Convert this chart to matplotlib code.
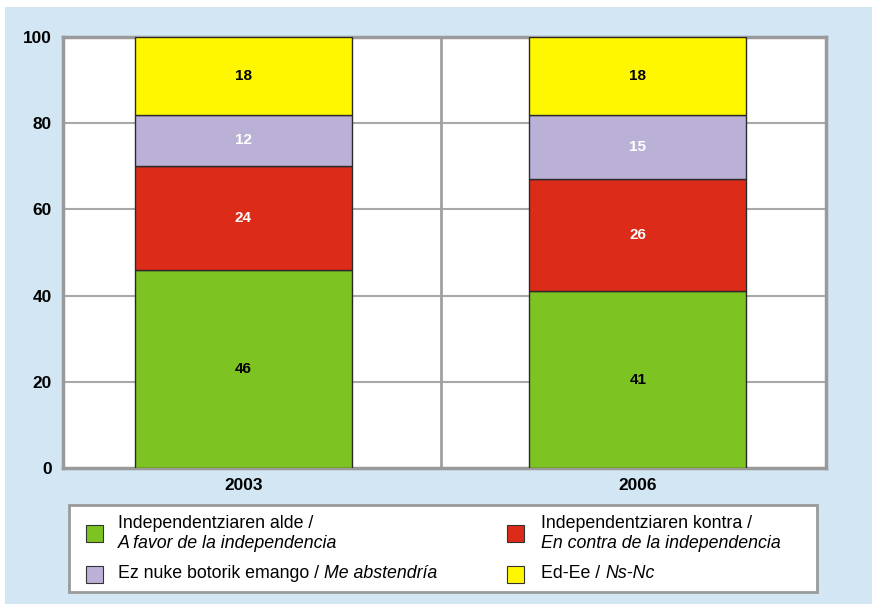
import matplotlib
matplotlib.use("Agg")
import matplotlib.pyplot as plt
from matplotlib.patches import Rectangle
import numpy as np

plt.rcParams['font.family'] = ['Liberation Sans', 'DejaVu Sans']

years = ["2003", "2006"]
favor = [46, 41]
contra = [24, 26]
abst = [12, 15]
nsnc = [18, 18]

series = [favor, contra, abst, nsnc]
colors = ["#7dc423", "#dc2b19", "#bbb1d6", "#fff700"]
label_colors = ["black", "white", "white", "black"]
legend_main = ["Independentziaren alde /", "Independentziaren kontra /",
               "Ez nuke botorik emango / ", "Ed-Ee / "]
legend_it = ["A favor de la independencia", "En contra de la independencia",
             "Me abstendría", "Ns-Nc"]

W, H = 872, 607
fig = plt.figure(figsize=(W/100, H/100), dpi=100, facecolor="white")

def fx(px):
    return px / W
def fy(py):
    return 1 - py / H

# light blue background panel
fig.patches.append(Rectangle((fx(5), fy(604)), fx(872) - fx(5), fy(7) - fy(604),
                             transform=fig.transFigure, facecolor="#d2e6f3",
                             edgecolor="none", zorder=-10))

ax = fig.add_axes([fx(63), fy(468), fx(826) - fx(63), fy(37) - fy(468)])
ax.set_zorder(2)
ax.set_facecolor("white")
x = np.arange(len(years))
bottom = np.zeros(len(years))
for vals, c, lc in zip(series, colors, label_colors):
    ax.bar(x, vals, 0.55, bottom=bottom, color=c, edgecolor="#2a2a2a",
           linewidth=1, zorder=3)
    for xi, b, v in zip(x, bottom, vals):
        ax.text(xi, b + v / 2, str(v), ha="center", va="center",
                fontsize=11, fontweight="bold", color=lc, zorder=4)
    bottom += np.array(vals)

ax.set_xlim(-0.4575, 1.4766)
ax.set_ylim(0, 100)
ax.set_yticks([0, 20, 40, 60, 80, 100])
ax.set_xticks(x)
ax.set_xticklabels(years)
for lab in ax.get_xticklabels() + ax.get_yticklabels():
    lab.set_fontweight("bold")
    lab.set_fontsize(12.4)
ax.tick_params(axis="both", length=0)
ax.tick_params(axis="y", pad=8)
ax.tick_params(axis="x", pad=7)
for yv in [20, 40, 60, 80]:
    ax.axhline(yv, color="#a8a8a8", linewidth=1.5, zorder=1)
ax.axvline(0.5, color="#a0a0a0", linewidth=2, zorder=1)
for s in ax.spines.values():
    s.set_color("#9a9a9a")
    s.set_linewidth(2.5)

# legend box
fig.patches.append(Rectangle((fx(69), fy(592)), fx(817) - fx(69), fy(505) - fy(592),
                             transform=fig.transFigure, facecolor="white",
                             edgecolor="#9a9a9a", linewidth=2, zorder=1))

FS = 12.8
entries = [
    (0, 86, 118, 533, True),
    (1, 507, 541, 533, True),
    (2, 86, 118, 574, False),
    (3, 507, 541, 574, False),
]
r = fig.canvas.get_renderer()
for idx, sqx, tx, cy, two in entries:
    fig.patches.append(Rectangle((fx(sqx), fy(cy + 8.5)), fx(17), 17 / H,
                                 transform=fig.transFigure, facecolor=colors[idx],
                                 edgecolor="#333333", linewidth=0.8, zorder=2))
    if two:
        fig.text(fx(tx), fy(cy - 10), legend_main[idx], ha="left", va="center",
                 fontsize=FS, zorder=3)
        fig.text(fx(tx), fy(cy + 10), legend_it[idx], ha="left", va="center",
                 fontsize=FS, style="italic", zorder=3)
    else:
        t = fig.text(fx(tx), fy(cy), legend_main[idx], ha="left", va="center",
                     fontsize=FS, zorder=3)
        bb = t.get_window_extent(renderer=r)
        fig.text(bb.x1 / W, fy(cy), legend_it[idx], ha="left", va="center",
                 fontsize=FS, style="italic", zorder=3)

fig.savefig("out.png", dpi=100, facecolor="white")
